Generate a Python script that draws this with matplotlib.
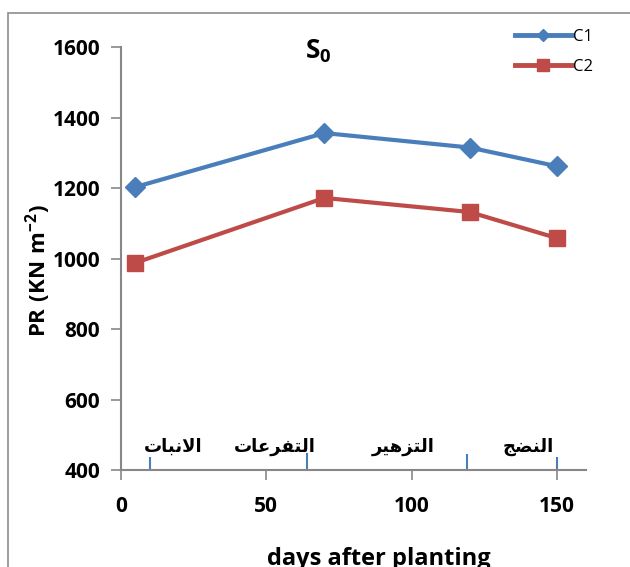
import matplotlib
matplotlib.use("Agg")
import matplotlib.pyplot as plt
from matplotlib.lines import Line2D
from matplotlib.patches import Rectangle

# days after planting and penetration resistance for the two treatments
days = [5, 70, 120, 150]
c1_values = [1203, 1356, 1315, 1262]
c2_values = [988, 1172, 1132, 1058]

# growth stage boundaries and their names
stage_marks = [10, 64, 119, 150]
stage_mark_tops = [437, 448, 445, 437]
stage_names = ["الانبات", "التفرعات", "التزهير", "النضج"]
stage_label_x = [18, 53, 97, 140]

x_ticks = [0, 50, 100, 150]
y_ticks = [400, 600, 800, 1000, 1200, 1400, 1600]

BLUE = "#4A7EBB"
RED = "#BE4B48"
GREY = "#878787"

# contextual forms: isolated, final, initial, medial
ARABIC_FORMS = {
    "ا": ("\ufe8d", "\ufe8e", None, None),
    "ب": ("\ufe8f", "\ufe90", "\ufe91", "\ufe92"),
    "ت": ("\ufe95", "\ufe96", "\ufe97", "\ufe98"),
    "ج": ("\ufe9d", "\ufe9e", "\ufe9f", "\ufea0"),
    "ر": ("\ufead", "\ufeae", None, None),
    "ز": ("\ufeaf", "\ufeb0", None, None),
    "ض": ("\ufebd", "\ufebe", "\ufebf", "\ufec0"),
    "ع": ("\ufec9", "\ufeca", "\ufecb", "\ufecc"),
    "ف": ("\ufed1", "\ufed2", "\ufed3", "\ufed4"),
    "ل": ("\ufedd", "\ufede", "\ufedf", "\ufee0"),
    "ن": ("\ufee5", "\ufee6", "\ufee7", "\ufee8"),
    "ه": ("\ufee9", "\ufeea", "\ufeeb", "\ufeec"),
    "ي": ("\ufef1", "\ufef2", "\ufef3", "\ufef4"),
}
LAM_ALEF = ("\ufefb", "\ufefc")


def joins_next(glyph):
    return glyph != "لا" and ARABIC_FORMS[glyph][2] is not None


def shape_arabic(word):
    """Pick joined letter forms and reverse to visual order (no shaping in matplotlib)."""
    glyphs = []
    i = 0
    while i < len(word):
        if word[i] == "ل" and i + 1 < len(word) and word[i + 1] == "ا":
            glyphs.append("لا")
            i += 2
        else:
            glyphs.append(word[i])
            i += 1
    out = []
    for k, g in enumerate(glyphs):
        prev_joins = k > 0 and joins_next(glyphs[k - 1])
        if g == "لا":
            out.append(LAM_ALEF[1] if prev_joins else LAM_ALEF[0])
            continue
        iso, fin, ini, med = ARABIC_FORMS[g]
        can_next = ini is not None and k < len(glyphs) - 1
        if prev_joins and can_next:
            out.append(med)
        elif prev_joins:
            out.append(fin)
        elif can_next:
            out.append(ini)
        else:
            out.append(iso)
    return "".join(reversed(out))


plt.rcParams["font.family"] = ["Open Sans", "DejaVu Sans"]
plt.rcParams["mathtext.fontset"] = "custom"
plt.rcParams["mathtext.rm"] = "Open Sans:bold"
plt.rcParams["mathtext.bf"] = "Open Sans:bold"
plt.rcParams["mathtext.it"] = "Open Sans:bold"

fig = plt.figure(figsize=(6.3, 5.67), dpi=100)
ax = fig.add_axes([0.192, 0.171, 0.738, 0.746])

# chart area border
fig.add_artist(Rectangle((8 / 630, -0.1), 1.2, 1 - 13 / 567 + 0.1,
                         transform=fig.transFigure, fill=False,
                         edgecolor="#8C8C8C", linewidth=1.2))

ax.plot(days, c1_values, color=BLUE, linewidth=3, marker="D",
        markersize=10, label="C1", zorder=3)
ax.plot(days, c2_values, color=RED, linewidth=3, marker="s",
        markersize=12, label="C2", zorder=3)

# growth stage marks along the bottom
ax.vlines(stage_marks, 403, stage_mark_tops, color=BLUE, linewidth=1.5)
for xs, name in zip(stage_label_x, stage_names):
    ax.text(xs, 466, shape_arabic(name), ha="center", va="center",
            fontsize=13, fontweight="bold", family="DejaVu Sans")

ax.set_xlim(0, 160)
ax.set_ylim(400, 1600)
ax.set_xticks(x_ticks)
ax.set_yticks(y_ticks)
ax.tick_params(axis="both", colors=GREY, labelcolor="black",
               labelsize=15, width=1.2, direction="out", length=7)
ax.tick_params(axis="x", pad=12)
ax.tick_params(axis="y", pad=8)
for lbl in ax.get_xticklabels() + ax.get_yticklabels():
    lbl.set_fontweight("bold")

for side in ["top", "right"]:
    ax.spines[side].set_visible(False)
for side in ["left", "bottom"]:
    ax.spines[side].set_color(GREY)
    ax.spines[side].set_linewidth(1.5)

fig.text(318 / 630, 1 - 51 / 567, r"$\mathrm{S}_{0}$",
         ha="center", va="center", fontsize=19)

fig.text(38 / 630, 1 - 271 / 567, r"$\mathrm{PR\ (KN\ m^{-2})}$",
         rotation=90, ha="center", va="center", fontsize=16)
fig.text(379 / 630, 1 - 547 / 567, "days after planting", ha="center",
         va="top", fontsize=17, fontweight="bold")

handles = [
    Line2D([], [], color=BLUE, linewidth=3.5, marker="D", markersize=6),
    Line2D([], [], color=RED, linewidth=3.5, marker="s", markersize=9),
]
fig.legend(handles, ["C1", "C2"], loc="upper left",
           bbox_to_anchor=(500 / 630, 1 - 14 / 567), frameon=False,
           fontsize=12, handlelength=3.4, handletextpad=0.1,
           labelspacing=0.85)

fig.savefig("out.png", dpi=100)
